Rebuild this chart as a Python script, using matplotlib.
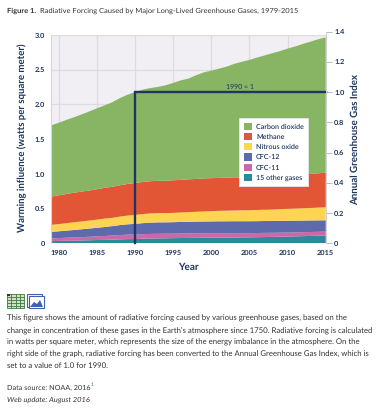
import matplotlib
matplotlib.use("Agg")
import matplotlib.pyplot as plt
from matplotlib.patches import Patch, Rectangle, Polygon

W, H = 379, 420
NAVY = "#1d3560"
TEXT = "#333333"
FONT = ["Lato", "Noto Sans", "DejaVu Sans"]

years = list(range(1979, 2016))
carbon_dioxide = [1.027, 1.045, 1.068, 1.086, 1.112, 1.138, 1.165, 1.188, 1.216, 1.255, 1.285, 1.308,
                  1.330, 1.342, 1.352, 1.375, 1.402, 1.432, 1.451, 1.492, 1.527, 1.549, 1.573, 1.600,
                  1.635, 1.664, 1.691, 1.720, 1.745, 1.772, 1.795, 1.825, 1.851, 1.880, 1.905, 1.930, 1.950]
methane = [0.406, 0.413, 0.420, 0.426, 0.429, 0.432, 0.437, 0.442, 0.447, 0.451, 0.455, 0.459,
           0.462, 0.464, 0.465, 0.466, 0.469, 0.470, 0.472, 0.473, 0.475, 0.475, 0.474, 0.474,
           0.476, 0.475, 0.474, 0.475, 0.477, 0.479, 0.481, 0.483, 0.484, 0.487, 0.490, 0.494, 0.498]
nitrous_oxide = [0.104, 0.104, 0.107, 0.111, 0.113, 0.116, 0.118, 0.122, 0.120, 0.122, 0.126, 0.129,
                 0.131, 0.133, 0.134, 0.133, 0.134, 0.136, 0.139, 0.142, 0.145, 0.148, 0.151, 0.153,
                 0.155, 0.157, 0.158, 0.161, 0.163, 0.166, 0.169, 0.172, 0.174, 0.177, 0.180, 0.184, 0.187]
cfc_12 = [0.092, 0.097, 0.102, 0.108, 0.113, 0.118, 0.123, 0.129, 0.135, 0.143, 0.149, 0.154,
          0.158, 0.162, 0.164, 0.164, 0.165, 0.167, 0.168, 0.169, 0.170, 0.171, 0.172, 0.172,
          0.172, 0.172, 0.171, 0.171, 0.171, 0.170, 0.170, 0.169, 0.168, 0.167, 0.166, 0.165, 0.164]
cfc_11 = [0.039, 0.042, 0.044, 0.046, 0.048, 0.050, 0.053, 0.056, 0.059, 0.062, 0.064, 0.065,
          0.066, 0.066, 0.066, 0.066, 0.065, 0.065, 0.065, 0.064, 0.064, 0.063, 0.063, 0.062,
          0.062, 0.061, 0.061, 0.060, 0.060, 0.059, 0.059, 0.058, 0.058, 0.057, 0.057, 0.056, 0.056]
other_gases = [0.031, 0.034, 0.036, 0.038, 0.041, 0.044, 0.047, 0.049, 0.053, 0.057, 0.060, 0.061,
               0.066, 0.069, 0.071, 0.072, 0.074, 0.076, 0.077, 0.079, 0.080, 0.081, 0.082, 0.083,
               0.084, 0.085, 0.086, 0.088, 0.090, 0.092, 0.094, 0.097, 0.100, 0.103, 0.106, 0.109, 0.112]

legend_labels = ["Carbon dioxide", "Methane", "Nitrous oxide", "CFC-12", "CFC-11", "15 other gases"]
legend_colors = ["#87b564", "#e25635", "#fdd552", "#5f6aad", "#cd68a8", "#2a8a9c"]
x_ticks = [1980, 1985, 1990, 1995, 2000, 2005, 2010, 2015]
left_ticks = [0, 0.5, 1.0, 1.5, 2.0, 2.5, 3.0]
left_tick_labels = ["0", "0.5", "1.0", "1.5", "2.0", "2.5", "3.0"]
right_ticks = [0, 0.2, 0.4, 0.6, 0.8, 1.0, 1.2, 1.4]
right_tick_labels = ["0", "0.2", "0.4", "0.6", "0.8", "1.0", "1.2", "1.4"]
index_years = [1990, 1990, 2015]
index_values = [0, 1.0, 1.0]

body_lines = [
    "This figure shows the amount of radiative forcing caused by various greenhouse gases, based on the",
    "change in concentration of these gases in the Earth\u2019s atmosphere since 1750. Radiative forcing is calculated",
    "in watts per square meter, which represents the size of the energy imbalance in the atmosphere. On the",
    "right side of the graph, radiative forcing has been converted to the Annual Greenhouse Gas Index, which is",
    "set to a value of 1.0 for 1990.",
]

plt.rcParams["font.family"] = FONT
plt.rcParams["text.hinting"] = "no_hinting"


def box(x0, y_top, x1, y_bottom):
    # пиксели картинки -> доли фигуры
    return [x0 / W, 1 - y_bottom / H, (x1 - x0) / W, (y_bottom - y_top) / H]


def put(x, y, s, **kw):
    fig.text(x / W, 1 - y / H, s, va="center", **kw)


fig = plt.figure(figsize=(W / 100, H / 100), dpi=100, facecolor="white")

# Основной график
ax = fig.add_axes(box(51, 35, 325.7, 243.3), facecolor="#f1eff4")
ax.stackplot(years, other_gases, cfc_11, cfc_12, nitrous_oxide, methane, carbon_dioxide,
             colors=legend_colors[::-1], linewidth=0, zorder=2)
ax.set_xlim(1979, 2015)
ax.set_ylim(0, 3.0)
ax.set_xticks(x_ticks)
ax.set_yticks(left_ticks)
ax.set_yticklabels(left_tick_labels)
ax.grid(True, color="#dcdbe0", linewidth=0.9, zorder=1)
ax.set_axisbelow(True)
for side in ["top", "right", "bottom"]:
    ax.spines[side].set_visible(False)
ax.spines["left"].set_color("#d5d5da")
ax.tick_params(axis="both", length=0, pad=4.5, labelsize=5.3, labelcolor=NAVY)
for lab in ax.get_xticklabels() + ax.get_yticklabels():
    lab.set_fontweight("bold")

# Правая ось: индекс AGGI
ax2 = fig.add_axes(box(51, 31.5, 325.7, 243.3), facecolor="none")
ax2.set_xlim(1979, 2015)
ax2.set_ylim(0, 1.4)
ax2.plot(index_years, index_values, color=NAVY, linewidth=1.7, solid_joinstyle="miter", clip_on=False)
ax2.set_xticks([])
ax2.yaxis.tick_right()
ax2.set_yticks(right_ticks)
ax2.set_yticklabels(right_tick_labels)
for side in ["top", "left", "bottom"]:
    ax2.spines[side].set_visible(False)
ax2.spines["right"].set_color("#cfcfd4")
ax2.spines["right"].set_linewidth(0.7)
ax2.tick_params(axis="y", length=4, width=0.7, color="#b9b9c0", pad=2, labelsize=5.3, labelcolor=NAVY)
for lab in ax2.get_yticklabels():
    lab.set_fontweight("bold")

handles = [Patch(facecolor=c, edgecolor="none") for c in legend_colors]
leg = ax2.legend(handles, legend_labels, loc="upper left",
                 bbox_to_anchor=(239 / W, 1 - 118 / H), bbox_transform=fig.transFigure,
                 fontsize=5.1, frameon=True, facecolor="white", edgecolor="#e6e6e6", framealpha=1,
                 fancybox=False, borderaxespad=0, borderpad=0.65, labelspacing=0.45,
                 handlelength=1.15, handleheight=1.15, handletextpad=0.6, labelcolor=NAVY)
leg.get_frame().set_linewidth(0.6)
for t in leg.get_texts():
    t.set_fontweight("semibold")

# Подписи
fig.text(22 / W, 1 - 138 / H, "Warming influence (watts per square meter)", rotation=90, ha="center", va="center",
         fontsize=6.9, fontweight="bold", color=NAVY)
fig.text(355 / W, 1 - 139 / H, "Annual Greenhouse Gas Index", rotation=90, ha="center", va="center",
         fontsize=7.0, fontweight="bold", color=NAVY)
put(188.5, 267, "Year", ha="center", fontsize=7.2, fontweight="bold", color=NAVY)
put(240, 87, "1990 = 1", ha="center", fontsize=5.0, color=NAVY)

put(7, 11, "Figure 1.", fontsize=5.4, fontweight="bold", color=TEXT)
put(40, 11, "Radiative Forcing Caused by Major Long-Lived Greenhouse Gases, 1979-2015", fontsize=5.4, color=TEXT)

for i, line in enumerate(body_lines):
    put(7, 318 + i * 12, line, fontsize=5.55, color=TEXT)
put(7, 388, "Data source: NOAA, 2016", fontsize=5.25, color=TEXT)
put(90.5, 385, "1", fontsize=3.6, color="#3a66b0")
put(7, 400, "Web update: August 2016", fontsize=5.4, style="italic", color=TEXT)

# Значки таблицы и картинки
icons = fig.add_axes([0, 0, 1, 1], facecolor="none")
icons.set_xlim(0, W)
icons.set_ylim(H, 0)
icons.axis("off")
icons.add_patch(Rectangle((7, 294), 17, 14, facecolor="#cfe0c4", edgecolor="#3f7a45", linewidth=0.6))
for gy in [297, 300, 303, 306]:
    icons.plot([7, 24], [gy, gy], color="#3f7a45", linewidth=0.6)
for gx in [11, 15.5, 20]:
    icons.plot([gx, gx], [294, 308], color="#3f7a45", linewidth=0.6)
icons.add_patch(Rectangle((7, 294), 3, 2, facecolor="#333333", edgecolor="none"))
icons.add_patch(Rectangle((27, 294), 15, 13, facecolor="white", edgecolor="#3f62ae", linewidth=0.8))
icons.add_patch(Rectangle((29, 296), 15, 12, facecolor="white", edgecolor="#3f62ae", linewidth=0.8))
icons.add_patch(Polygon([(30, 307), (34, 302), (37, 304), (40, 300), (43, 307)], facecolor="#3f62ae", edgecolor="none"))

fig.savefig("out.png", dpi=100)
